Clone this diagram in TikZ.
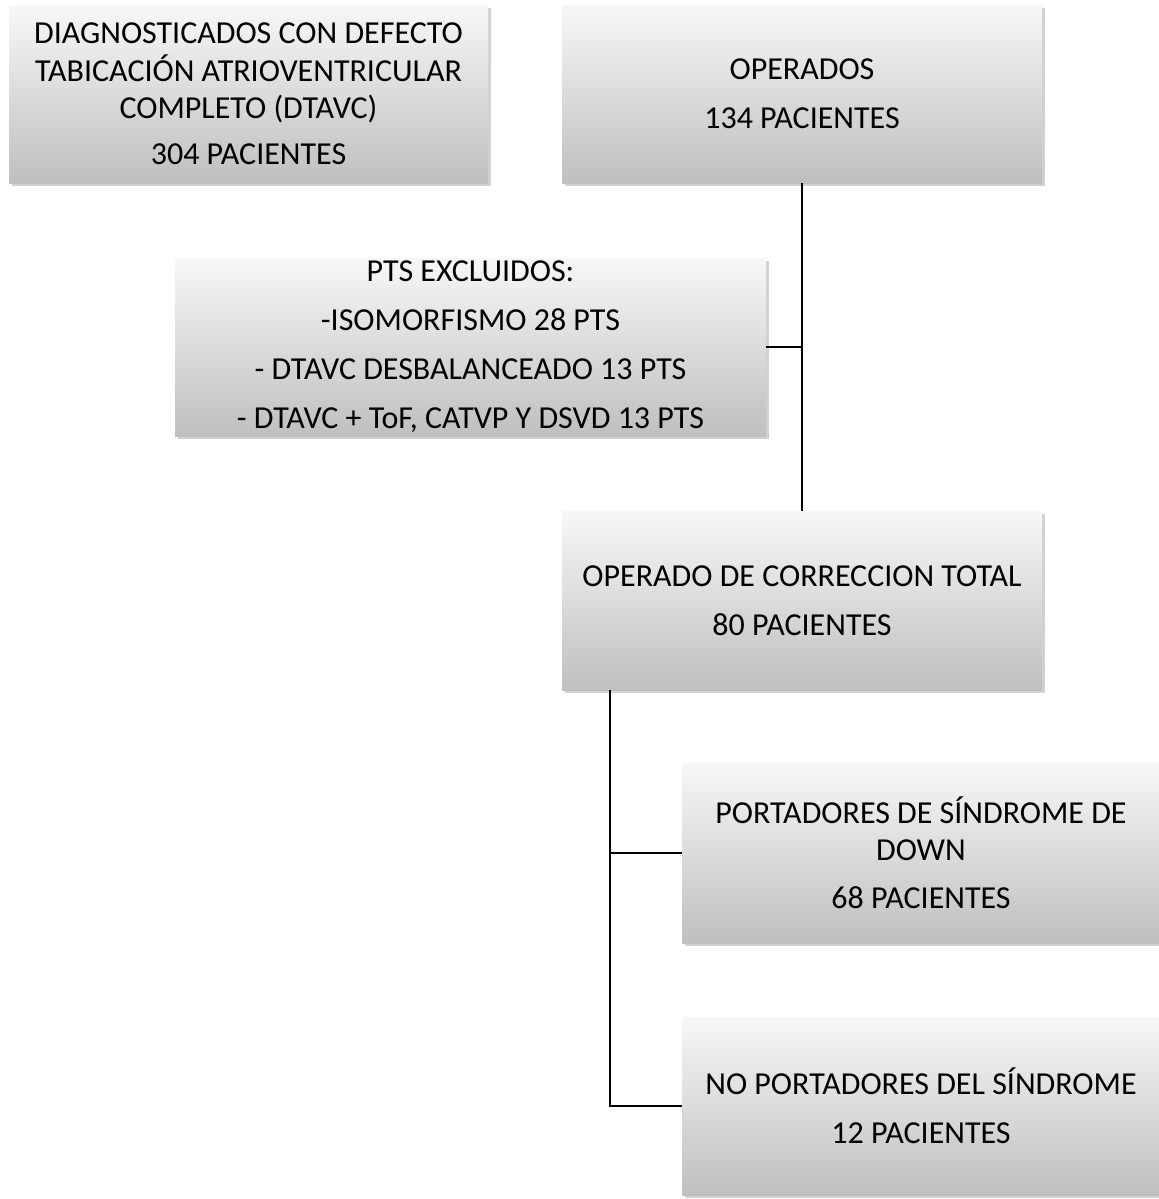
\documentclass[tikz,border=0pt]{standalone}
\usepackage{fontspec}
\setmainfont{Carlito}
\usetikzlibrary{shadows}
\begin{document}
\begin{tikzpicture}[x=0.75pt,y=-0.75pt,
  box/.style={rectangle, inner sep=0pt, align=center,
    top color=gray!6, bottom color=gray!50,
    drop shadow={shadow xshift=2.5pt, shadow yshift=-2.5pt, opacity=0.3, fill=black!60},
    font=\fontsize{24}{28}\selectfont},
  conn/.style={draw=black, line width=1.3pt}]
\useasboundingbox (0,0) rectangle (1158,1199);
\node[box, minimum width=359.25pt, minimum height=133.5pt] (b1) at (248.5,94)
  {DIAGNOSTICADOS CON DEFECTO\\TABICACIÓN ATRIOVENTRICULAR\\COMPLETO (DTAVC)\\[6.5pt]304 PACIENTES};
\node[box, minimum width=360pt, minimum height=133.5pt] (b2) at (802,94)
  {OPERADOS\\[9pt]134 PACIENTES};
\node[box, minimum width=443.25pt, minimum height=133.5pt] (b3) at (470.5,347)
  {PTS EXCLUIDOS:\\[8.75pt]-ISOMORFISMO 28 PTS\\[8.75pt]- DTAVC DESBALANCEADO 13 PTS\\[8.75pt]- DTAVC + ToF, CATVP Y DSVD 13 PTS};
\node[box, minimum width=360pt, minimum height=134.25pt] (b4) at (802,600.5)
  {OPERADO DE CORRECCION TOTAL\\[9pt]80 PACIENTES};
\node[box, minimum width=358.5pt, minimum height=135pt] (b5) at (921,853)
  {PORTADORES DE SÍNDROME DE\\DOWN\\[8pt]68 PACIENTES};
\node[box, minimum width=358.5pt, minimum height=133.5pt] (b6) at (921,1106)
  {NO PORTADORES DEL SÍNDROME\\[9pt]12 PACIENTES};
\draw[conn] (b2.south) -- (b4.north);
\draw[conn] (b3.east) -- (b3.east -| b2.south);
\coordinate (j) at ([xshift=36pt]b4.south west);
\draw[conn] (j) |- (b6.west);
\draw[conn] (j |- b5.west) -- (b5.west);
\end{tikzpicture}
\end{document}
